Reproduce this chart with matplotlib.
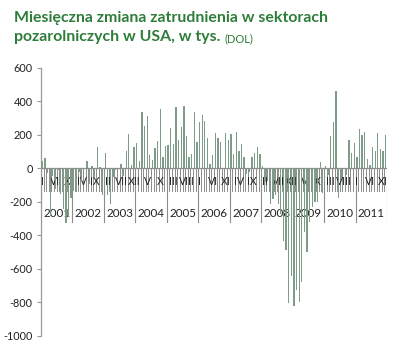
import matplotlib
matplotlib.use("Agg")
import matplotlib.pyplot as plt
import numpy as np

# Monthly change in US nonfarm payrolls, thousands (I..XII for each year)
years = [2001, 2002, 2003, 2004, 2005, 2006, 2007, 2008, 2009, 2010, 2011]
chg_2001 = [42, 61, -28, -283, -46, -126, -13, -152, -245, -326, -292, -178]
chg_2002 = [-134, -144, -23, -85, -7, 45, -97, 13, -53, 125, 8, -158]
chg_2003 = [88, -158, -212, -50, -9, -1, 26, -44, 103, 203, 18, 124]
chg_2004 = [150, 43, 338, 250, 310, 81, 47, 122, 160, 351, 65, 131]
chg_2005 = [136, 240, 142, 362, 169, 246, 369, 195, 67, 84, 334, 158]
chg_2006 = [278, 315, 280, 182, 23, 80, 207, 181, 158, 2, 210, 171]
chg_2007 = [205, 84, 217, 100, 144, 68, -34, -20, 68, 90, 125, 84]
chg_2008 = [12, -85, -79, -215, -186, -162, -213, -274, -432, -489, -803, -640]
chg_2009 = [-820, -726, -800, -680, -380, -500, -320, -230, -200, -200, 40, -150]
chg_2010 = [14, -39, 190, 277, 458, -180, -66, -1, -41, 171, 93, 152]
chg_2011 = [68, 235, 197, 217, 56, 22, 127, 104, 212, 114, 104, 200]
month_names = ["I", "II", "III", "IV", "V", "VI", "VII", "VIII", "IX", "X", "XI", "XII"]
y_ticks = [-1000, -800, -600, -400, -200, 0, 200, 400, 600]

values = np.array(chg_2001 + chg_2002 + chg_2003 + chg_2004 + chg_2005 + chg_2006
                  + chg_2007 + chg_2008 + chg_2009 + chg_2010 + chg_2011, dtype=float)
n = len(values)
labels = [month_names[i % 12] for i in range(n)]

fig = plt.figure(figsize=(4.0, 3.5), dpi=100)
ax = fig.add_axes([0.1025, 0.04, 0.865, 0.767])
font = "Lato"

x = np.arange(n) + 0.5
ax.bar(x, values, width=0.5, color="#7f9c88", zorder=3, linewidth=0)

ax.set_xlim(0, n)
ax.set_ylim(y_ticks[0], y_ticks[-1])
ax.set_yticks(y_ticks)
ax.set_yticklabels([str(v) for v in y_ticks], fontsize=7.8, color="#222222", family=font)
ax.tick_params(axis="y", length=3, width=0.8, color="#999999", pad=3)
ax.set_xticks([])
for s in ["top", "right", "bottom"]:
    ax.spines[s].set_visible(False)
ax.spines["left"].set_color("#999999")
ax.spines["left"].set_linewidth(0.9)

# category axis crossing at zero, with multi-level labels below it
ax.axhline(0, color="#8a8a8a", lw=0.9, zorder=2)
month_row = -137
year_row = -322
for k in range(n + 1):
    ax.plot([k, k], [0, month_row], color="#8c8c8c", lw=0.7, zorder=2)
for j in range(len(years) + 1):
    ax.plot([12 * j, 12 * j], [0, year_row], color="#8c8c8c", lw=0.8, zorder=2)
for i in range(0, n, 5):
    ax.text(i + 0.5, -78, labels[i], ha="center", va="center", fontsize=7.6,
            color="#222222", family=font, zorder=2)
for j, yr in enumerate(years):
    ax.text(12 * j + 6, -268, str(yr), ha="center", va="center", fontsize=8.4,
            color="#222222", family=font, zorder=2)

green = "#2f7d3a"
fig.text(0.035, 0.938, "Miesięczna zmiana zatrudnienia w sektorach", fontsize=11.4,
         fontweight="bold", color=green, family=font, va="baseline")
t2 = fig.text(0.035, 0.882, "pozarolniczych w USA, w tys.", fontsize=11.4,
              fontweight="bold", color=green, family=font, va="baseline")
ax.annotate("(DOL)", xy=(1, 0), xycoords=t2, xytext=(3, 0), textcoords="offset points",
            fontsize=8, color=green, family=font, va="bottom", ha="left")

fig.savefig("out.png", dpi=100)
